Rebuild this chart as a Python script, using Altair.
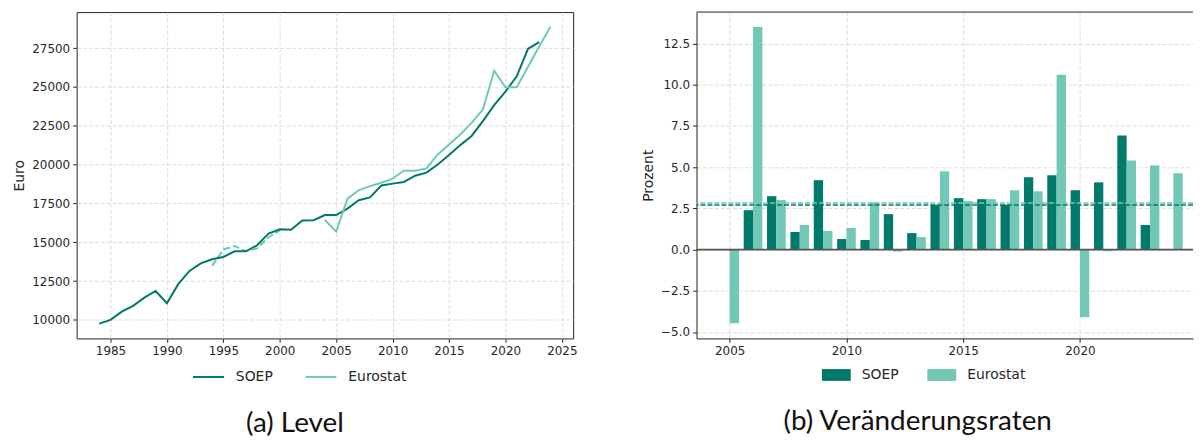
import altair as alt
import pandas as pd

DARK = "#017a6b"
LIGHT = "#72c8b5"
series_names = ["SOEP", "Eurostat"]

# ---- Level data (Euro) ----
soep_years = list(range(1984, 2024))
soep_level = [9760, 10000, 10530, 10900, 11430, 11860, 11070, 12300, 13150, 13640,
              13900, 14050, 14410, 14410, 14800, 15550, 15830, 15800, 16400, 16420,
              16750, 16750, 17160, 17700, 17880, 18650, 18770, 18880, 19280, 19480,
              20000, 20620, 21250, 21840, 22790, 23820, 24690, 25680, 27450, 27880]
eurostat_years = list(range(2004, 2025))
eurostat_level = [16430, 15680, 17800, 18340, 18610, 18830, 19090, 19600, 19600, 19750,
                  20650, 21290, 21930, 22680, 23540, 26040, 24970, 24970, 26300, 27620,
                  28880]
eurostat_old_years = list(range(1994, 2001))
eurostat_old_level = [13475, 14530, 14750, 14430, 14600, 15320, 15740]

# ---- Growth rates (Prozent) ----
rate_years = list(range(2005, 2025))
soep_rate = [-0.03, 2.39, 3.24, 1.07, 4.21, 0.64, 0.58, 2.15, 1.00, 2.72,
             3.12, 3.06, 2.72, 4.39, 4.51, 3.60, 4.08, 6.92, 1.49, None]
eurostat_rate = [-4.47, 13.50, 3.00, 1.49, 1.13, 1.31, 2.86, -0.12, 0.76, 4.75,
                 2.94, 3.06, 3.60, 3.54, 10.60, -4.10, -0.10, 5.41, 5.11, 4.63]
mean_rates = [2.71, 2.82]

x_ticks_left = list(range(1985, 2030, 5))
y_ticks_left = list(range(10000, 30000, 2500))
x_ticks_right = [2005, 2010, 2015, 2020]
y_ticks_right = [-5.0, -2.5, 0.0, 2.5, 5.0, 7.5, 10.0, 12.5]

lvl = pd.concat([
    pd.DataFrame({"year": soep_years, "value": soep_level, "series": "SOEP"}),
    pd.DataFrame({"year": eurostat_years, "value": eurostat_level, "series": "Eurostat"}),
])
old = pd.DataFrame({"year": eurostat_old_years, "value": eurostat_old_level})
rates = pd.concat([
    pd.DataFrame({"year": rate_years, "value": soep_rate, "series": "SOEP"}),
    pd.DataFrame({"year": rate_years, "value": eurostat_rate, "series": "Eurostat"}),
]).dropna()
means = pd.DataFrame({"series": series_names, "rate": mean_rates})
zero = pd.DataFrame({"v": [0.0]})
one = pd.DataFrame({"a": [0]})

W, H = 499, 328
WR = 499
TXT = "#262626"
FONT = "DejaVu Sans"
CAP_FONT = "Lato"

color_scale = alt.Scale(domain=series_names, range=[DARK, LIGHT])

# ---------------- Left panel ----------------
xL = alt.X("year:Q", scale=alt.Scale(domain=[1982, 2026], nice=False, zero=False),
           axis=alt.Axis(values=x_ticks_left, format="d", title=None, domain=False))
yL = alt.Y("value:Q", scale=alt.Scale(domain=[8805, 29815], nice=False, zero=False),
           axis=alt.Axis(values=y_ticks_left, format="d", title="Euro", domain=False))

old_line = alt.Chart(old).mark_line(color=LIGHT, strokeWidth=2, strokeDash=[7, 3]).encode(x=xL, y=yL)
main_lines = alt.Chart(lvl).mark_line(strokeWidth=2).encode(
    x=xL, y=yL,
    color=alt.Color("series:N", scale=color_scale, sort=series_names,
                    legend=alt.Legend(title=None, orient="none", legendX=116, legendY=350,
                                      direction="horizontal", symbolType="stroke",
                                      symbolSize=961, symbolStrokeWidth=2,
                                      labelFontSize=14, labelFont=FONT, labelColor=TXT,
                                      labelOffset=11, columnPadding=28, padding=0)),
    detail="series:N",
)
left = alt.layer(old_line, main_lines).properties(
    width=W, height=H,
    view=alt.ViewBackground(stroke="#222222", strokeWidth=1),
    title=alt.TitleParams("(a) Level", orient="bottom", anchor="middle", frame="bounds",
                          font=CAP_FONT, fontSize=28, fontWeight="normal", color="#111111",
                          offset=26),
)

# ---------------- Right panel ----------------
x0 = 2003.58
xR_scale = alt.Scale(domain=[x0, x0 + WR / 23.47], nice=False, zero=False)
yR_scale = alt.Scale(domain=[-5.39, 14.41], nice=False, zero=False)
yR_axis = alt.Axis(values=y_ticks_right, format=".1f", title="Prozent", domain=True)
xR_axis = alt.Axis(values=x_ticks_right, format="d", title=None, domain=True)

bars = alt.Chart(rates).transform_calculate(
    x0="datum.year + (datum.series === 'SOEP' ? -0.4 : 0)",
    x1="datum.x0 + 0.4",
).mark_rect().encode(
    x=alt.X("x0:Q", scale=xR_scale, axis=xR_axis),
    x2="x1:Q",
    y=alt.Y("value:Q", scale=yR_scale, axis=yR_axis),
    y2=alt.datum(0),
    color=alt.Color("series:N", scale=color_scale, sort=series_names,
                    legend=alt.Legend(title=None, orient="none", legendX=126, legendY=350,
                                      direction="horizontal",
                                      symbolType="M-1,-0.41H1V0.41H-1Z",
                                      symbolSize=841, symbolStrokeWidth=0,
                                      labelFontSize=14, labelFont=FONT, labelColor=TXT,
                                      labelOffset=11, columnPadding=28, padding=0)),
)
zero_line = alt.Chart(zero).mark_rule(color="#555555", strokeWidth=1.6).encode(
    y=alt.Y("v:Q", scale=yR_scale))
mean_soep = alt.Chart(means).transform_filter("datum.series === 'SOEP'").mark_rule(
    color=DARK, strokeWidth=1.5, strokeDash=[5, 2]).encode(y=alt.Y("rate:Q", scale=yR_scale))
mean_euro = alt.Chart(means).transform_filter("datum.series === 'Eurostat'").mark_rule(
    color=LIGHT, strokeWidth=1.5, strokeDash=[5, 2]).encode(y=alt.Y("rate:Q", scale=yR_scale))
top_line = alt.Chart(one).mark_rule(color="#222222", strokeWidth=1).encode(
    x=alt.value(0), x2=alt.value(WR), y=alt.value(0))

right = alt.layer(bars, zero_line, mean_euro, mean_soep, top_line).properties(
    width=WR, height=H,
    view=alt.ViewBackground(stroke="transparent"),
    title=alt.TitleParams("(b) Veränderungsraten", orient="bottom", anchor="middle",
                          frame="bounds", font=CAP_FONT, fontSize=28, fontWeight="normal",
                          color="#111111", offset=26),
)

chart = alt.hconcat(left, right, spacing=63).resolve_scale(
    color="independent", x="independent", y="independent"
).properties(
    padding={"left": 4, "top": 2, "right": 0, "bottom": 0}
).configure_axis(
    labelFont=FONT, labelFontSize=12, labelColor=TXT,
    titleFont=FONT, titleFontSize=14, titleColor=TXT, titleFontWeight="normal",
    titlePadding=5,
    tickColor=TXT, tickSize=4, labelPadding=3,
    domainColor="#222222", domainWidth=1,
    grid=True, gridColor="#d4d4d4", gridDash=[4, 2], gridWidth=0.8,
).configure_view(
    stroke="#222222"
)

chart.save("out.html", embed_options={"renderer": "svg", "actions": False})
